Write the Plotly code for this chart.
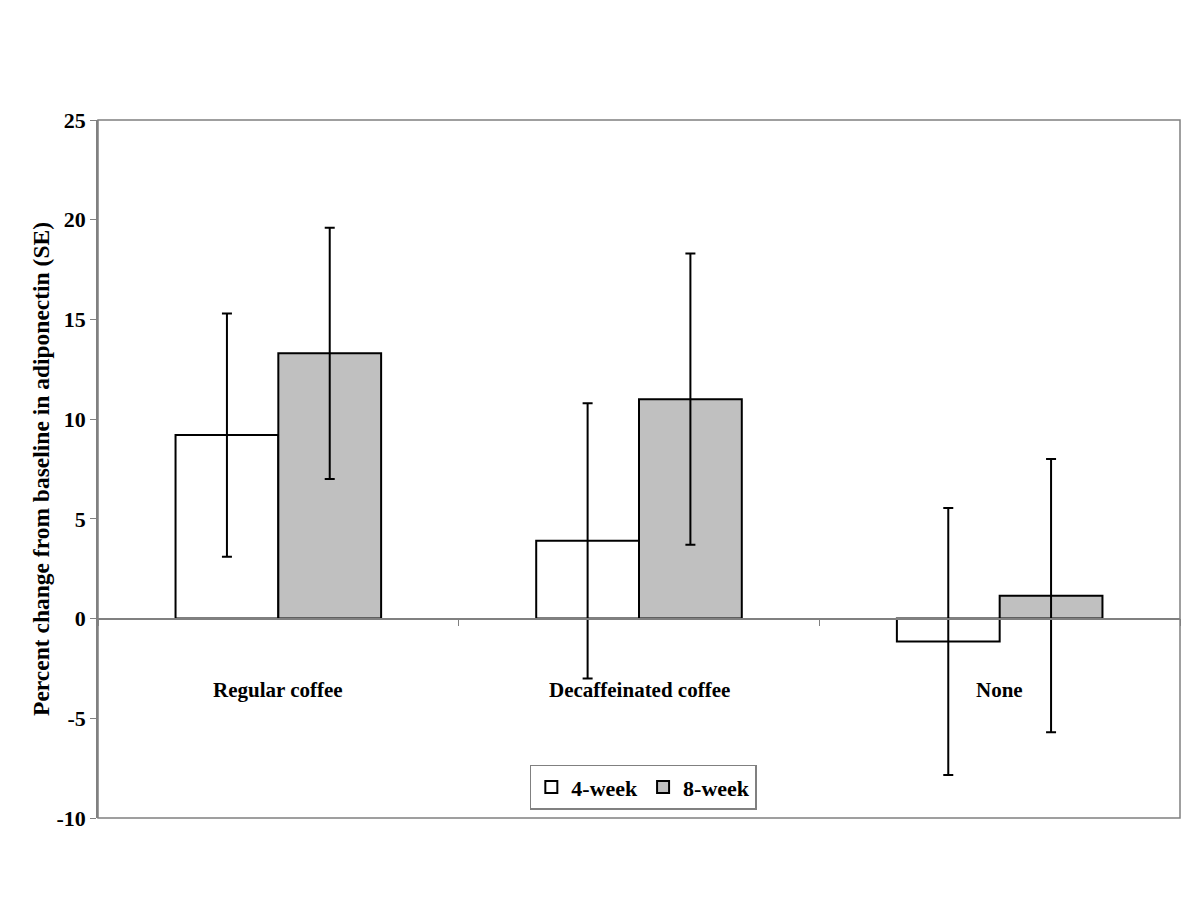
import plotly.graph_objects as go

categories = ["Regular coffee", "Decaffeinated coffee", "None"]
week4 = [9.2, 3.9, -1.15]
week4_se = [6.1, 6.9, 6.7]
week8 = [13.3, 11.0, 1.15]
week8_se = [6.3, 7.3, 6.85]
series_names = ["4-week", "8-week"]
yticks = [-10, -5, 0, 5, 10, 15, 20, 25]

FONT = "Liberation Serif"

fig = go.Figure()
fig.add_trace(go.Bar(
    x=categories, y=week4, name="<b>%s</b>" % series_names[0],
    marker=dict(color="white", line=dict(color="black", width=2)),
    error_y=dict(type="data", array=week4_se, color="black", thickness=2, width=5),
))
fig.add_trace(go.Bar(
    x=categories, y=week8, name="<b>%s</b>" % series_names[1],
    marker=dict(color="#C0C0C0", line=dict(color="black", width=2)),
    error_y=dict(type="data", array=week8_se, color="black", thickness=2, width=5),
))

for c in categories:
    fig.add_annotation(x=c, y=-3.6, xref="x", yref="y", text="<b>%s</b>" % c,
                       showarrow=False, font=dict(family=FONT, size=21, color="black"))

# frame
fig.add_shape(type="rect", xref="paper", yref="paper", x0=0, x1=1, y0=0, y1=1,
              line=dict(color="#808080", width=1.5), layer="below")

fig.update_layout(
    width=1200, height=900,
    paper_bgcolor="white", plot_bgcolor="white",
    margin=dict(l=90, r=28, t=112, b=90),
    barmode="group", bargap=0.43, bargroupgap=0,
    font=dict(family=FONT, size=20, color="black"),
    showlegend=True,
    legend=dict(orientation="h", x=0.504, xanchor="center", y=0.012, yanchor="bottom",
                bordercolor="#808080", borderwidth=1.5, bgcolor="white",
                font=dict(family=FONT, size=22, color="black"),
                itemsizing="constant", traceorder="normal"),
    xaxis=dict(type="category", anchor="free", position=10/35,
               showline=True, linecolor="#808080", linewidth=1.5,
               ticks="outside", ticklen=7, tickcolor="#808080", tickson="boundaries",
               showticklabels=False, showgrid=False, zeroline=False),
    yaxis=dict(range=[-10, 25], tickvals=yticks,
               ticktext=["<b>%d</b>" % v for v in yticks],
               showline=True, linecolor="#808080", linewidth=1.5,
               ticks="outside", ticklen=6, tickcolor="#808080",
               showgrid=False, zeroline=False,
               tickfont=dict(family=FONT, size=22, color="black"),
               title=dict(text="<b>Percent change from baseline in adiponectin (SE)</b>",
                          font=dict(family=FONT, size=23.5, color="black"), standoff=0)),
)

fig.write_html("out.html")
